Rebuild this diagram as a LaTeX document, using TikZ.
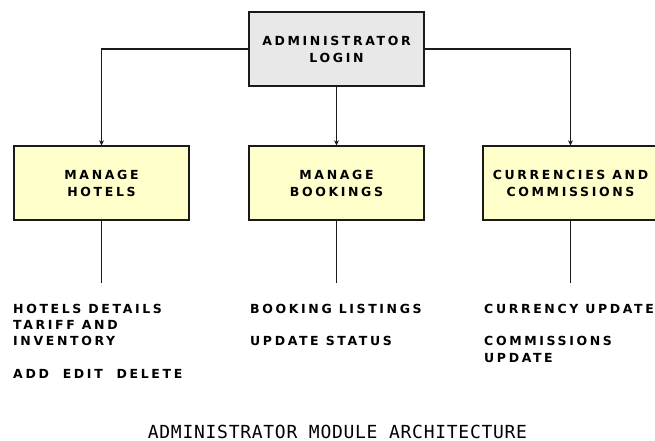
\documentclass[tikz,border=0pt]{standalone}
\usepackage{fontspec}
\newfontfamily\pix[LetterSpace=21]{DejaVu Sans Bold}
\newfontfamily\capfont[LetterSpace=4]{DejaVu Sans Mono}
\usetikzlibrary{arrows.meta}
\definecolor{boxgrey}{HTML}{E8E8E8}
\definecolor{boxyellow}{HTML}{FFFFCC}
\definecolor{edge}{HTML}{1A1A1A}
\tikzset{
  box/.style={draw=edge, line width=1.4pt, minimum width=175pt, minimum height=74pt,
    inner sep=0pt, align=center, font=\pix\fontsize{12.5}{17}\selectfont},
  adminbox/.style={box, fill=boxgrey},
  modbox/.style={box, fill=boxyellow},
  conn/.style={draw=edge, line width=1.2pt},
  arr/.style={conn, -{Stealth[length=5pt,width=5pt]}},
  item/.style={anchor=base west, inner sep=0pt, font=\pix\fontsize{12.5}{16}\selectfont},
}
\begin{document}
\begin{tikzpicture}[x=1pt,y=-1pt]
\useasboundingbox (0,0) rectangle (655,441);
\node[adminbox] (admin) at (336.5,49) {ADMINISTRATOR\\LOGIN};
\node[modbox] (hotels) at (101.5,183) {MANAGE\\HOTELS};
\node[modbox] (bookings) at (336.5,183) {MANAGE\\BOOKINGS};
\node[modbox] (curr) at (570.5,183) {CURRENCIES AND\\COMMISSIONS};
\coordinate (hend) at (101.5,283);
\coordinate (bend) at (336.5,283);
\coordinate (cend) at (570.5,283);
\draw[arr] (admin.west) -| (hotels.north);
\draw[arr] (admin.south) -- (bookings.north);
\draw[arr] (admin.east) -| (curr.north);
\draw[conn] (hotels.south) -- (hend);
\draw[conn] (bookings.south) -- (bend);
\draw[conn] (curr.south) -- (cend);
\node[item] (h1) at (13,313) {HOTELS DETAILS};
\node[item] (h2) at (13,329) {TARIFF AND};
\node[item] (h3) at (13,345) {INVENTORY};
\node[item] (h4) at (13,378) {ADD\ \ EDIT\ \ DELETE};
\node[item] (b1) at (250,313) {BOOKING LISTINGS};
\node[item] (b2) at (250,345) {UPDATE STATUS};
\node[item] (c1) at (484,313) {CURRENCY UPDATE};
\node[item] (c2) at (484,345) {COMMISSIONS};
\node[item] (c3) at (484,362) {UPDATE};
\node[anchor=base, inner sep=0pt, font=\capfont\fontsize{18}{20}\selectfont] (title) at (337.5,438) {ADMINISTRATOR MODULE ARCHITECTURE};
\end{tikzpicture}
\end{document}
